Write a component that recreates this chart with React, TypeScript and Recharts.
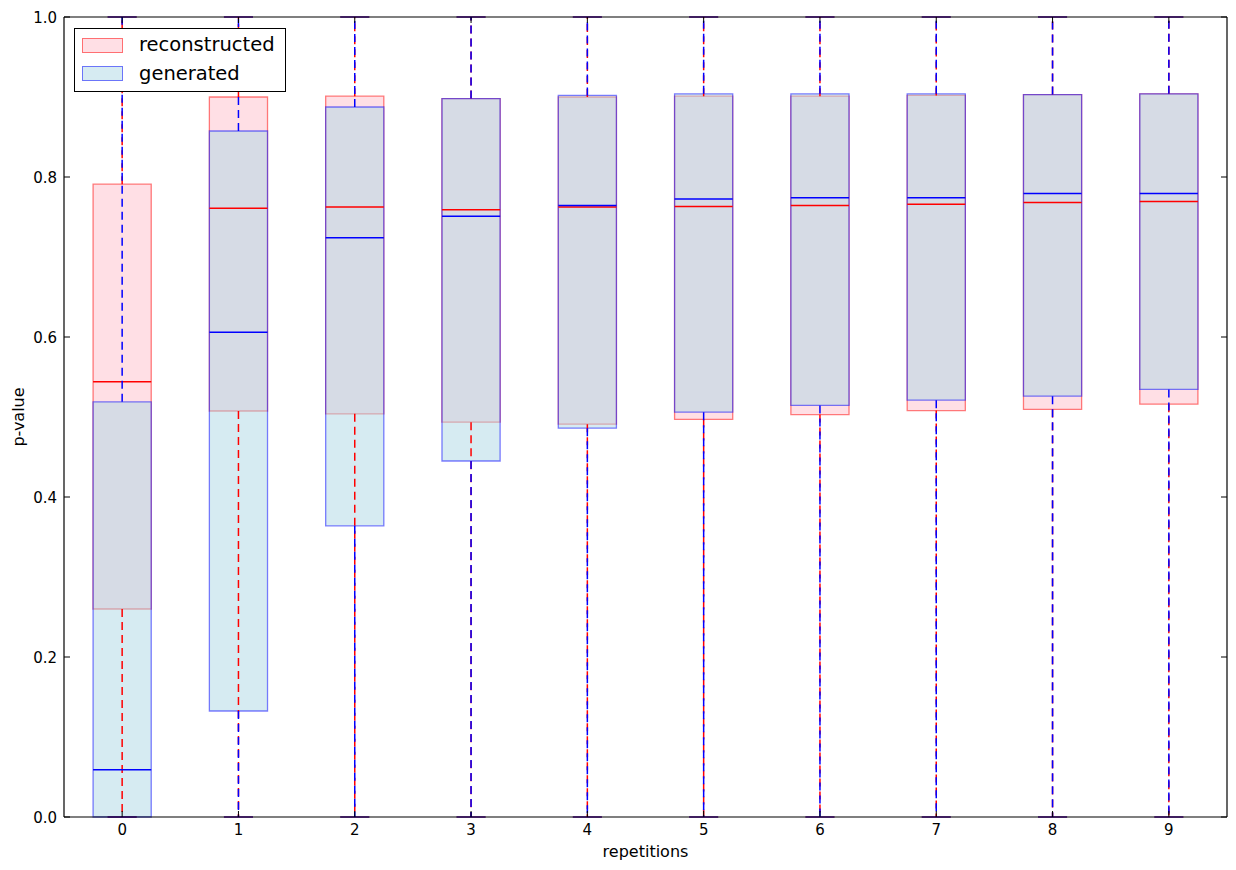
import React from 'react'
import { ComposedChart, XAxis, YAxis, Scatter, ReferenceArea, ReferenceLine, Legend } from 'recharts'

const repetitions = [0, 1, 2, 3, 4, 5, 6, 7, 8, 9]
const yTicks = [0, 0.2, 0.4, 0.6, 0.8, 1.0]

// reconstructed
const recLow = [0, 0, 0, 0, 0, 0, 0, 0, 0, 0]
const recQ1 = [0.26, 0.5075, 0.504, 0.4935, 0.491, 0.497, 0.503, 0.508, 0.5095, 0.516]
const recMed = [0.544, 0.761, 0.7625, 0.759, 0.7625, 0.763, 0.7645, 0.766, 0.768, 0.7695]
const recQ3 = [0.791, 0.9, 0.901, 0.898, 0.9, 0.901, 0.901, 0.902, 0.903, 0.904]
const recHigh = [1, 1, 1, 1, 1, 1, 1, 1, 1, 1]

// generated
const genLow = [0, 0, 0, 0, 0, 0, 0, 0, 0, 0]
const genQ1 = [0, 0.1325, 0.364, 0.445, 0.486, 0.506, 0.5145, 0.521, 0.526, 0.5345]
const genMed = [0.059, 0.606, 0.724, 0.751, 0.7645, 0.7725, 0.774, 0.774, 0.7795, 0.7795]
const genQ3 = [0.519, 0.8575, 0.8875, 0.898, 0.902, 0.904, 0.904, 0.904, 0.903, 0.904]
const genHigh = [1, 1, 1, 1, 1, 1, 1, 1, 1, 1]

const seriesNames = ['reconstructed', 'generated']

const FONT = '"DejaVu Sans", sans-serif'
const BOX_HALF = 0.25
const CAP_HALF = 0.125

const series = [
  { name: seriesNames[0], low: recLow, q1: recQ1, med: recMed, q3: recQ3, high: recHigh, fill: 'pink', edge: 'red', line: 'red' },
  { name: seriesNames[1], low: genLow, q1: genQ1, med: genMed, q3: genQ3, high: genHigh, fill: 'lightblue', edge: 'blue', line: 'blue' },
]

const points = repetitions.map((r, i) => ({ x: r, y: genMed[i] }))

const BottomTick = (props: any) => {
  const { x, y, payload } = props
  return (
    <g>
      <line x1={x} y1={y} x2={x} y2={y - 6} stroke="#000" />
      <text x={x} y={y + 18} textAnchor="middle" fontFamily={FONT} fontSize={15} fill="#000">
        {payload.value}
      </text>
    </g>
  )
}

const LeftTick = (props: any) => {
  const { x, y, payload } = props
  return (
    <g>
      <line x1={x} y1={y} x2={x + 6} y2={y} stroke="#000" />
      <text x={x - 7} y={y + 5.5} textAnchor="end" fontFamily={FONT} fontSize={15} fill="#000">
        {Number(payload.value).toFixed(1)}
      </text>
    </g>
  )
}

const TopTick = (props: any) => {
  const { x, y } = props
  return <line x1={x} y1={y} x2={x} y2={y + 6} stroke="#000" />
}

const RightTick = (props: any) => {
  const { x, y } = props
  return <line x1={x} y1={y} x2={x - 6} y2={y} stroke="#000" />
}

const YLabel = (props: any) => {
  const vb = props.viewBox
  const cx = vb.x + 18
  const cy = vb.y + vb.height / 2
  return (
    <text x={cx} y={cy} transform={`rotate(-90 ${cx} ${cy})`} textAnchor="middle" dominantBaseline="central"
      fontFamily={FONT} fontSize={16} fill="#000">
      p-value
    </text>
  )
}

const XLabel = (props: any) => {
  const vb = props.viewBox
  return (
    <text x={vb.x + vb.width / 2} y={vb.y + 40} textAnchor="middle" fontFamily={FONT} fontSize={16} fill="#000">
      repetitions
    </text>
  )
}

const LegendBox = () => (
  <div style={{
    width: 212, height: 64, boxSizing: 'border-box', border: '1px solid #000', background: '#fff',
    fontFamily: FONT, fontSize: 19.5, color: '#000', position: 'relative', textAlign: 'left',
  }}>
    {series.map((s, i) => (
      <div key={s.name} style={{ position: 'absolute', left: 7, top: 8 + i * 28.5, height: 16, display: 'flex', alignItems: 'center' }}>
        <div style={{
          width: 41, height: 15, boxSizing: 'border-box',
          background: s.fill === 'pink' ? 'rgba(255,192,203,0.5)' : 'rgba(173,216,230,0.5)',
          border: s.edge === 'red' ? '1px solid rgba(255,0,0,0.5)' : '1px solid rgba(0,0,255,0.5)',
        }} />
        <span style={{ marginLeft: 16, lineHeight: '16px', whiteSpace: 'nowrap' }}>{s.name}</span>
      </div>
    ))}
  </div>
)

export default function App() {
  return (
    <div style={{ position: 'absolute', left: 0, top: 0, background: '#fff' }}>
      <ComposedChart width={1236} height={870} data={points} margin={{ top: 16, right: 8, bottom: 0, left: 0 }}>
        <XAxis dataKey="x" type="number" domain={[-0.5, 9.5]} ticks={repetitions} allowDataOverflow
          height={53} tickSize={0} tickMargin={0} tickLine={false} tick={BottomTick}
          axisLine={{ stroke: '#000', strokeWidth: 1.2 }} label={<XLabel />} />
        <XAxis xAxisId="top" orientation="top" dataKey="x" type="number" domain={[-0.5, 9.5]} ticks={repetitions}
          allowDataOverflow height={1} tickSize={0} tickMargin={0} tickLine={false} tick={TopTick}
          axisLine={{ stroke: '#000', strokeWidth: 1.2 }} />
        <YAxis type="number" domain={[0, 1]} ticks={yTicks} allowDataOverflow width={64}
          tickSize={0} tickMargin={0} tickLine={false} tick={LeftTick}
          axisLine={{ stroke: '#000', strokeWidth: 1.2 }} label={<YLabel />} />
        <YAxis yAxisId="right" orientation="right" type="number" domain={[0, 1]} ticks={yTicks} allowDataOverflow
          width={1} tickSize={0} tickMargin={0} tickLine={false} tick={RightTick}
          axisLine={{ stroke: '#000', strokeWidth: 1.2 }} />

        {series.map((s) =>
          repetitions.map((r, i) => (
            <ReferenceArea key={`box-${s.name}-${r}`} x1={r - BOX_HALF} x2={r + BOX_HALF} y1={s.q1[i]} y2={s.q3[i]}
              fill={s.fill} fillOpacity={0.5} stroke={s.edge} strokeOpacity={0.5} strokeWidth={1.3} ifOverflow="visible" />
          ))
        )}

        {series.map((s) =>
          repetitions.map((r, i) => (
            <React.Fragment key={`lines-${s.name}-${r}`}>
              {s.high[i] > s.q3[i] && (
                <ReferenceLine segment={[{ x: r, y: s.q3[i] }, { x: r, y: s.high[i] }]} stroke={s.line}
                  strokeWidth={1.5} strokeDasharray="8 5" ifOverflow="visible" />
              )}
              {s.q1[i] > s.low[i] && (
                <ReferenceLine segment={[{ x: r, y: s.q1[i] }, { x: r, y: s.low[i] }]} stroke={s.line}
                  strokeWidth={1.5} strokeDasharray="8 5" ifOverflow="visible" />
              )}
              <ReferenceLine segment={[{ x: r - CAP_HALF, y: s.high[i] }, { x: r + CAP_HALF, y: s.high[i] }]}
                stroke={s.line} strokeOpacity={0.5} strokeWidth={2} ifOverflow="visible" />
              <ReferenceLine segment={[{ x: r - CAP_HALF, y: s.low[i] }, { x: r + CAP_HALF, y: s.low[i] }]}
                stroke={s.line} strokeOpacity={0.5} strokeWidth={2} ifOverflow="visible" />
              <ReferenceLine segment={[{ x: r - BOX_HALF, y: s.med[i] }, { x: r + BOX_HALF, y: s.med[i] }]}
                stroke={s.line} strokeWidth={1.5} ifOverflow="visible" />
            </React.Fragment>
          ))
        )}

        <Scatter dataKey="y" isAnimationActive={false} legendType="none" shape={() => <g />} />
        <Legend layout="horizontal" verticalAlign="middle" align="center" content={<LegendBox />}
          wrapperStyle={{ top: 28, left: 74, width: 212, height: 64 }} />
      </ComposedChart>
    </div>
  )
}
